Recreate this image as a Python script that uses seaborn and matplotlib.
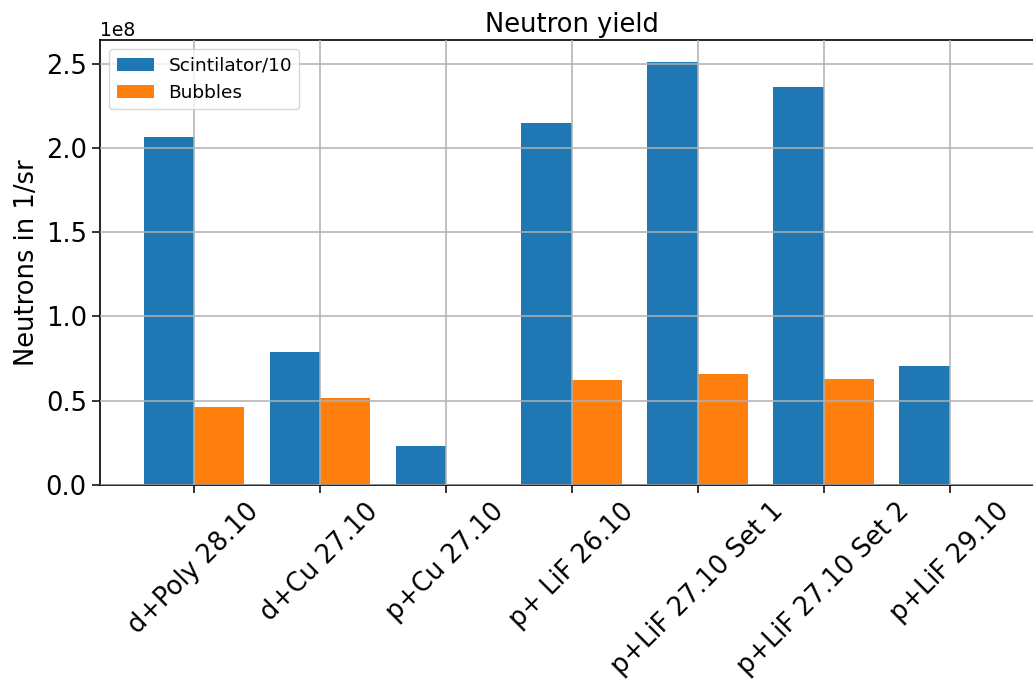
import matplotlib
matplotlib.use("Agg")
import matplotlib.pyplot as plt
import seaborn as sns
import pandas as pd

categories = ["d+Poly 28.10", "d+Cu 27.10", "p+Cu 27.10", "p+ LiF 26.10",
              "p+LiF 27.10 Set 1", "p+LiF 27.10 Set 2", "p+LiF 29.10"]
scintillator = [2.062e8, 0.788e8, 0.231e8, 2.145e8, 2.512e8, 2.364e8, 0.705e8]
bubbles = [0.462e8, 0.515e8, 0.0, 0.622e8, 0.658e8, 0.628e8, 0.0]
series_names = ["Scintilator/10", "Bubbles"]

df = pd.DataFrame({
    "cat": categories * 2,
    "val": scintillator + bubbles,
    "series": [series_names[0]] * len(categories) + [series_names[1]] * len(categories),
})

fig = plt.figure(figsize=(10.33, 6.8), dpi=100)
ax = fig.add_axes([100 / 1033, 195 / 680, 943 / 1033, 445 / 680])
sns.barplot(data=df, x="cat", y="val", hue="series", ax=ax,
            palette=["#1f77b4", "#ff7f0e"], width=0.8, saturation=1,
            errorbar=None)
ax.set_xlim(-0.746, 6.74)
ax.set_ylim(0, 2.64e8)
ax.grid(True, color="#b0b0b0", linewidth=1.1)
ax.set_axisbelow(False)
ax.set_title("Neutron yield", fontsize=18.5)
ax.set_ylabel("Neutrons in 1/sr", fontsize=18.5)
ax.set_xlabel("")
ax.tick_params(axis="both", labelsize=18.5, length=6, width=1.1)
plt.setp(ax.get_xticklabels(), rotation=45, ha="center")
ax.yaxis.get_offset_text().set_fontsize(13.5)
leg = ax.legend(loc="upper left", fontsize=13.3)
for s in ax.spines.values():
    s.set_linewidth(1.2)
fig.savefig("out.png", dpi=100)
